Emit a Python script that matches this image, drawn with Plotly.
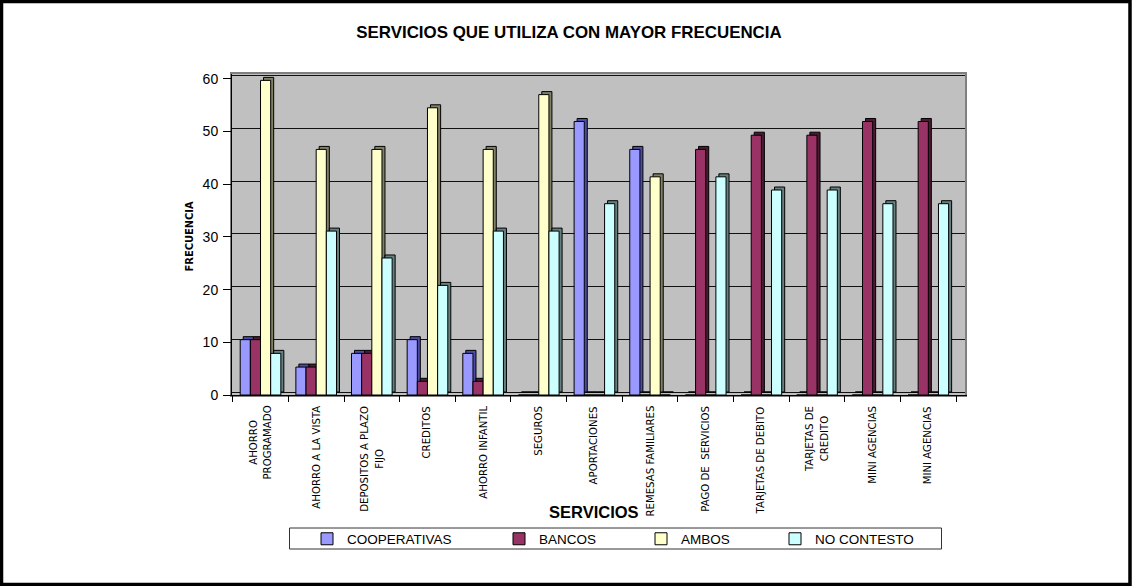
import plotly.graph_objects as go

# ---- data ----
categories = [
    "AHORRO<br>PROGRAMADO", "AHORRO A LA VISTA", "DEPOSITOS A PLAZO<br>FIJO",
    "CREDITOS", "AHORRO INFANTIL", "SEGUROS", "APORTACIONES",
    "REMESAS FAMILIARES", "PAGO DE  SERVICIOS", "TARJETAS DE DEBITO",
    "TARJETAS DE<br>CREDITO", "MINI AGENCIAS", "MINI AGENCIAS",
]
cooperativas = [10.5, 5.3, 7.9, 10.5, 7.9, 0, 51.9, 46.6, 0, 0, 0, 0, 0]
bancos = [10.5, 5.3, 7.9, 2.6, 2.6, 0, 0, 0, 46.6, 49.3, 49.3, 51.9, 51.9]
ambos = [59.7, 46.6, 46.6, 54.5, 46.6, 57.0, 0, 41.4, 0, 0, 0, 0, 0]
no_contesto = [7.9, 31.1, 26.0, 20.8, 31.1, 31.1, 36.3, 0, 41.4, 38.9, 38.9, 36.3, 36.3]
series_names = ["COOPERATIVAS", "BANCOS", "AMBOS", "NO CONTESTO"]
y_ticks = [0, 10, 20, 30, 40, 50, 60]

# ---- styling ----
W, H = 1132, 586
L, R, T, B = 232, 1132 - 965, 74, 586 - 395
PW, PH = W - L - R, H - T - B
CAT_PX = 55.65                      # pixel width of one category slot
Y_PX = 5.27                         # pixels per unit on the value axis
DEPTH = 3                           # px offset for the bar side faces

front_colors = ["#9999FF", "#993366", "#FFFFCC", "#CCFFFF"]
side_colors = ["#4C4CA6", "#4D1A33", "#808066", "#668080"]
legend_px = [307, 499, 641, 775]    # left px of each legend entry

FONT = "Liberation Sans, Arial, sans-serif"
NARROW = "DejaVu Sans Condensed, Liberation Sans Narrow, Arial Narrow, sans-serif"


def px_x(px):
    return (px - L) / PW


def px_y(py):
    return (H - B - py) / PH


series = [cooperativas, bancos, ambos, no_contesto]
xs = list(range(len(categories)))

x_front = [-0.5 - 0.7 / CAT_PX, -0.5 - 0.7 / CAT_PX + PW / CAT_PX]
y_front = [0, PH / Y_PX]
x_back = [v - DEPTH / CAT_PX for v in x_front]
y_back = [v - DEPTH / Y_PX for v in y_front]

fig = go.Figure()

# side faces (drawn behind, shifted up and to the right)
for vals, name, col in zip(series, series_names, side_colors):
    fig.add_trace(go.Bar(
        x=xs, y=vals, name=name, showlegend=False, hoverinfo="skip",
        marker=dict(color=col, line=dict(color="black", width=1)),
        xaxis="x", yaxis="y",
    ))

# front faces
for i, (vals, name, col) in enumerate(zip(series, series_names, front_colors)):
    fig.add_trace(go.Bar(
        x=xs, y=vals, name=name,
        marker=dict(color=col, line=dict(color="black", width=1)),
        xaxis="x2", yaxis="y2",
        legend="legend" if i == 0 else f"legend{i + 1}",
    ))

annotations = []
for i, lab in enumerate(categories):
    annotations.append(dict(
        x=i, xref="x2", y=px_y(404), yref="paper",
        text=lab, textangle=-90, showarrow=False,
        xanchor="center", yanchor="top", align="center",
        font=dict(family=NARROW, size=11.3, color="black"),
    ))

annotations.append(dict(
    x=px_x(181), y=px_y(237), xref="paper", yref="paper",
    text="FRECUENCIA", textangle=-90, showarrow=False,
    font=dict(family=NARROW, size=11, color="black", weight="bold"),
))
annotations.append(dict(
    x=px_x(594), y=px_y(523), xref="paper", yref="paper",
    text="SERVICIOS", showarrow=False,
    font=dict(family=FONT, size=16.5, color="black", weight="bold"),
))

shapes = [
    # legend frame
    dict(type="rect", xref="paper", yref="paper",
         x0=px_x(289.5), x1=px_x(941.5), y0=px_y(549), y1=px_y(528),
         line=dict(color="#333333", width=1), fillcolor="rgba(0,0,0,0)"),
    # outer chart frame
    dict(type="rect", xref="paper", yref="paper",
         x0=px_x(1.5), x1=px_x(1130), y0=px_y(584.5), y1=px_y(1.5),
         line=dict(color="black", width=3.5), fillcolor="rgba(0,0,0,0)"),
]

legend_common = dict(
    xref="container", yref="container", xanchor="left", yanchor="middle",
    y=1 - 539 / H, bgcolor="rgba(0,0,0,0)", borderwidth=0,
    font=dict(family=FONT, size=13.5, color="black"),
    itemclick=False, itemdoubleclick=False,
)
legends = {}
for i, px in enumerate(legend_px):
    key = "legend" if i == 0 else f"legend{i + 1}"
    legends[key] = dict(legend_common, x=px / W)

fig.update_layout(
    width=W, height=H,
    margin=dict(l=L, r=R, t=T, b=B, autoexpand=False),
    paper_bgcolor="white", plot_bgcolor="#C0C0C0",
    barmode="group", bargap=0.27, bargroupgap=0,
    title=dict(
        text="SERVICIOS QUE UTILIZA CON MAYOR FRECUENCIA",
        x=569 / W, xref="container", xanchor="center",
        y=1 - 32 / H, yref="container", yanchor="middle",
        font=dict(family=FONT, size=16.9, color="black", weight="bold"),
    ),
    xaxis=dict(range=x_back, showticklabels=False, ticks="", showgrid=False,
               zeroline=False, showline=True, mirror=True,
               linecolor="#808080", linewidth=1.5, fixedrange=True),
    yaxis=dict(range=y_back, showticklabels=False, ticks="", showgrid=True,
               gridcolor="#111111", gridwidth=1, tickvals=y_ticks,
               zeroline=False, showline=True, mirror=True,
               linecolor="#808080", linewidth=1.5, fixedrange=True),
    xaxis2=dict(overlaying="x", anchor="y2", range=x_front,
                tickvals=[v - 0.5 for v in range(len(categories) + 1)],
                ticktext=[""] * (len(categories) + 1),
                ticks="outside", ticklen=6, tickcolor="black", tickwidth=1,
                showgrid=False, zeroline=False, showline=True,
                linecolor="black", linewidth=1, fixedrange=True),
    yaxis2=dict(overlaying="y", anchor="x2", range=y_front,
                tickvals=y_ticks, ticks="outside", ticklen=8,
                tickcolor="black", tickwidth=1, ticklabelstandoff=2,
                tickfont=dict(family=FONT, size=14, color="black"),
                showgrid=False, zeroline=False, showline=True,
                linecolor="black", linewidth=1, fixedrange=True),
    annotations=annotations,
    shapes=shapes,
    **legends,
)

fig.write_html("out.html", config={"displayModeBar": False})
